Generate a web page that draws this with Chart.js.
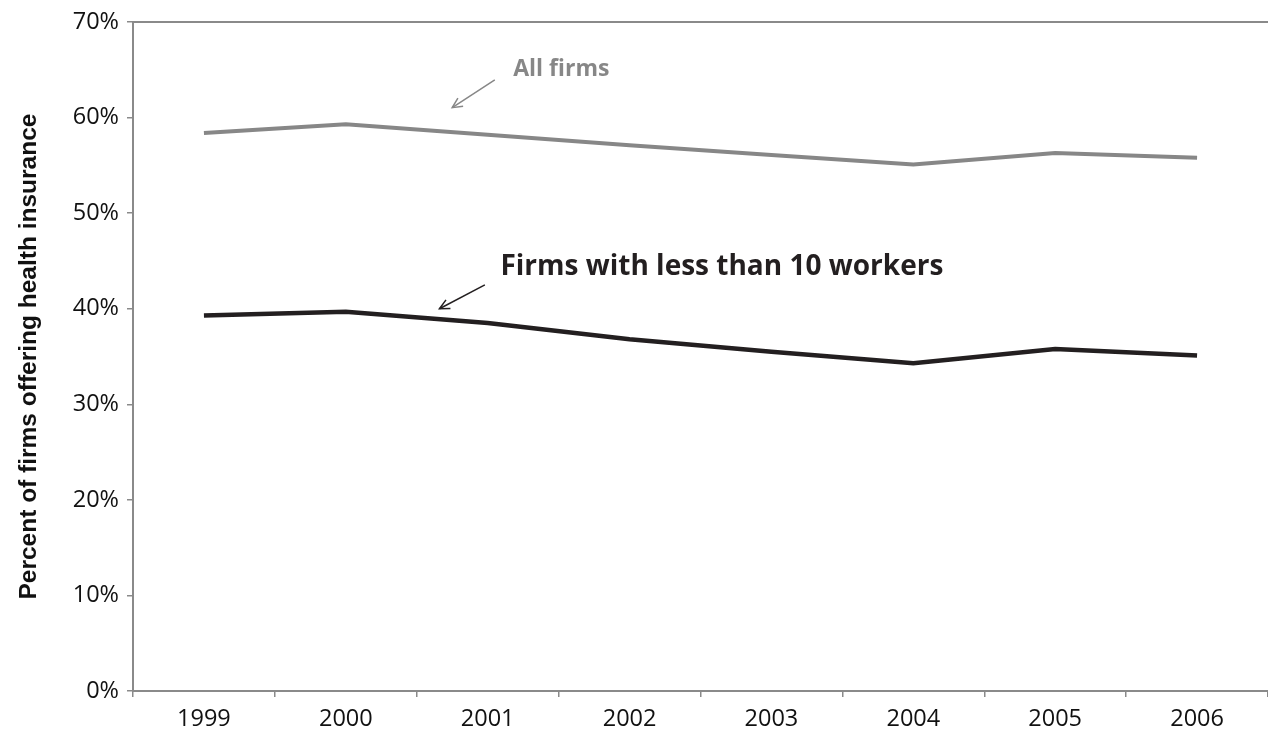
<!DOCTYPE html>
<html>
<head>
<meta charset="utf-8">
<script src="https://cdn.jsdelivr.net/npm/chart.js@4.4.1/dist/chart.umd.min.js"></script>
<style>
html,body{margin:0;padding:0;background:#fff;}
#wrap{width:1268px;height:731px;}
</style>
</head>
<body>
<div id="wrap"><canvas id="c" width="1268" height="731"></canvas></div>
<script>
const years = ['1999','2000','2001','2002','2003','2004','2005','2006'];
const allFirms = [58.4, 59.3, 58.2, 57.1, 56.1, 55.1, 56.3, 55.8];
const smallFirms = [39.3, 39.7, 38.5, 36.8, 35.5, 34.3, 35.8, 35.1];
const yTicks = [0, 10, 20, 30, 40, 50, 60, 70];

const labelAll = 'All firms';
const labelSmall = 'Firms with less than 10 workers';
const yTitle = 'Percent of firms offering health insurance';

const GRAY = '#878787';
const BLACK = '#231f20';
const AXIS = '#8a8a8a';

// annotation anchors in data units (category index, percent)
const notes = [
  {text: labelAll, color: GRAY, font: 'bold 23px "Open Sans", sans-serif', x: 2.18, y: 65.0, maxW: 99,
   arrow: {x1: 2.05, y1: 63.95, x2: 1.75, y2: 61.05}, lw: 1.5},
  {text: labelSmall, color: BLACK, font: 'bold 28px "Open Sans", sans-serif', x: 2.09, y: 44.4, maxW: 446,
   arrow: {x1: 1.98, y1: 42.5, x2: 1.66, y2: 40.0}, lw: 1.5}
];

const annot = {
  id: 'annot',
  afterDraw(chart) {
    const {ctx, chartArea, scales} = chart;
    const xs = scales.x, ys = scales.y;
    const p0 = xs.getPixelForValue(0), p1 = xs.getPixelForValue(1);
    const px = i => p0 + i * (p1 - p0);
    const py = v => ys.getPixelForValue(v);
    ctx.save();
    // top border
    ctx.strokeStyle = AXIS; ctx.lineWidth = 2;
    ctx.beginPath(); ctx.moveTo(chartArea.left, chartArea.top); ctx.lineTo(chartArea.right, chartArea.top); ctx.stroke();
    notes.forEach(n => {
      ctx.fillStyle = n.color; ctx.font = n.font;
      ctx.textBaseline = 'middle'; ctx.textAlign = 'left';
      ctx.fillText(n.text, px(n.x), py(n.y), n.maxW);
      const a = n.arrow;
      const x1 = px(a.x1), y1 = py(a.y1), x2 = px(a.x2), y2 = py(a.y2);
      ctx.strokeStyle = n.color; ctx.lineWidth = n.lw;
      ctx.beginPath(); ctx.moveTo(x1, y1); ctx.lineTo(x2, y2); ctx.stroke();
      const ang = Math.atan2(y2 - y1, x2 - x1), L = 11, w = 0.45;
      ctx.beginPath();
      ctx.moveTo(x2 - L * Math.cos(ang - w), y2 - L * Math.sin(ang - w));
      ctx.lineTo(x2, y2);
      ctx.lineTo(x2 - L * Math.cos(ang + w), y2 - L * Math.sin(ang + w));
      ctx.stroke();
    });
    ctx.restore();
  }
};

new Chart(document.getElementById('c'), {
  type: 'line',
  data: {
    labels: years,
    datasets: [
      {label: labelAll, data: allFirms, borderColor: GRAY, borderWidth: 4, pointRadius: 0, tension: 0, fill: false},
      {label: labelSmall, data: smallFirms, borderColor: BLACK, borderWidth: 4.5, pointRadius: 0, tension: 0, fill: false}
    ]
  },
  options: {
    responsive: false,
    animation: false,
    layout: {padding: {top: 18, right: 0, left: 0, bottom: 0}},
    plugins: {legend: {display: false}, tooltip: {enabled: false}},
    scales: {
      x: {
        offset: true,
        grid: {offset: true, drawOnChartArea: false, drawTicks: true, tickLength: 6, color: AXIS, lineWidth: 1.5},
        border: {display: true, color: AXIS, width: 2},
        ticks: {color: '#111', font: {family: '"Open Sans", sans-serif', size: 23.5}, padding: 8, maxRotation: 0},
        afterFit(s) { s.height = 40; }
      },
      y: {
        min: 0, max: 70,
        afterBuildTicks(s) { s.ticks = yTicks.map(v => ({value: v})); },
        grid: {drawOnChartArea: false, drawTicks: true, tickLength: 6, color: AXIS, lineWidth: 1.5},
        border: {display: true, color: AXIS, width: 2},
        ticks: {color: '#111', font: {family: '"Open Sans", sans-serif', size: 23.5}, padding: 8, callback: v => v + '%'},
        title: {display: true, text: yTitle, color: '#111', font: {family: '"Liberation Sans", Arial, sans-serif', size: 24.5, weight: 'bold'}, padding: {top: 15}},
        afterFit(s) { s.width = 133; }
      }
    }
  },
  plugins: [annot]
});
</script>
</body>
</html>
